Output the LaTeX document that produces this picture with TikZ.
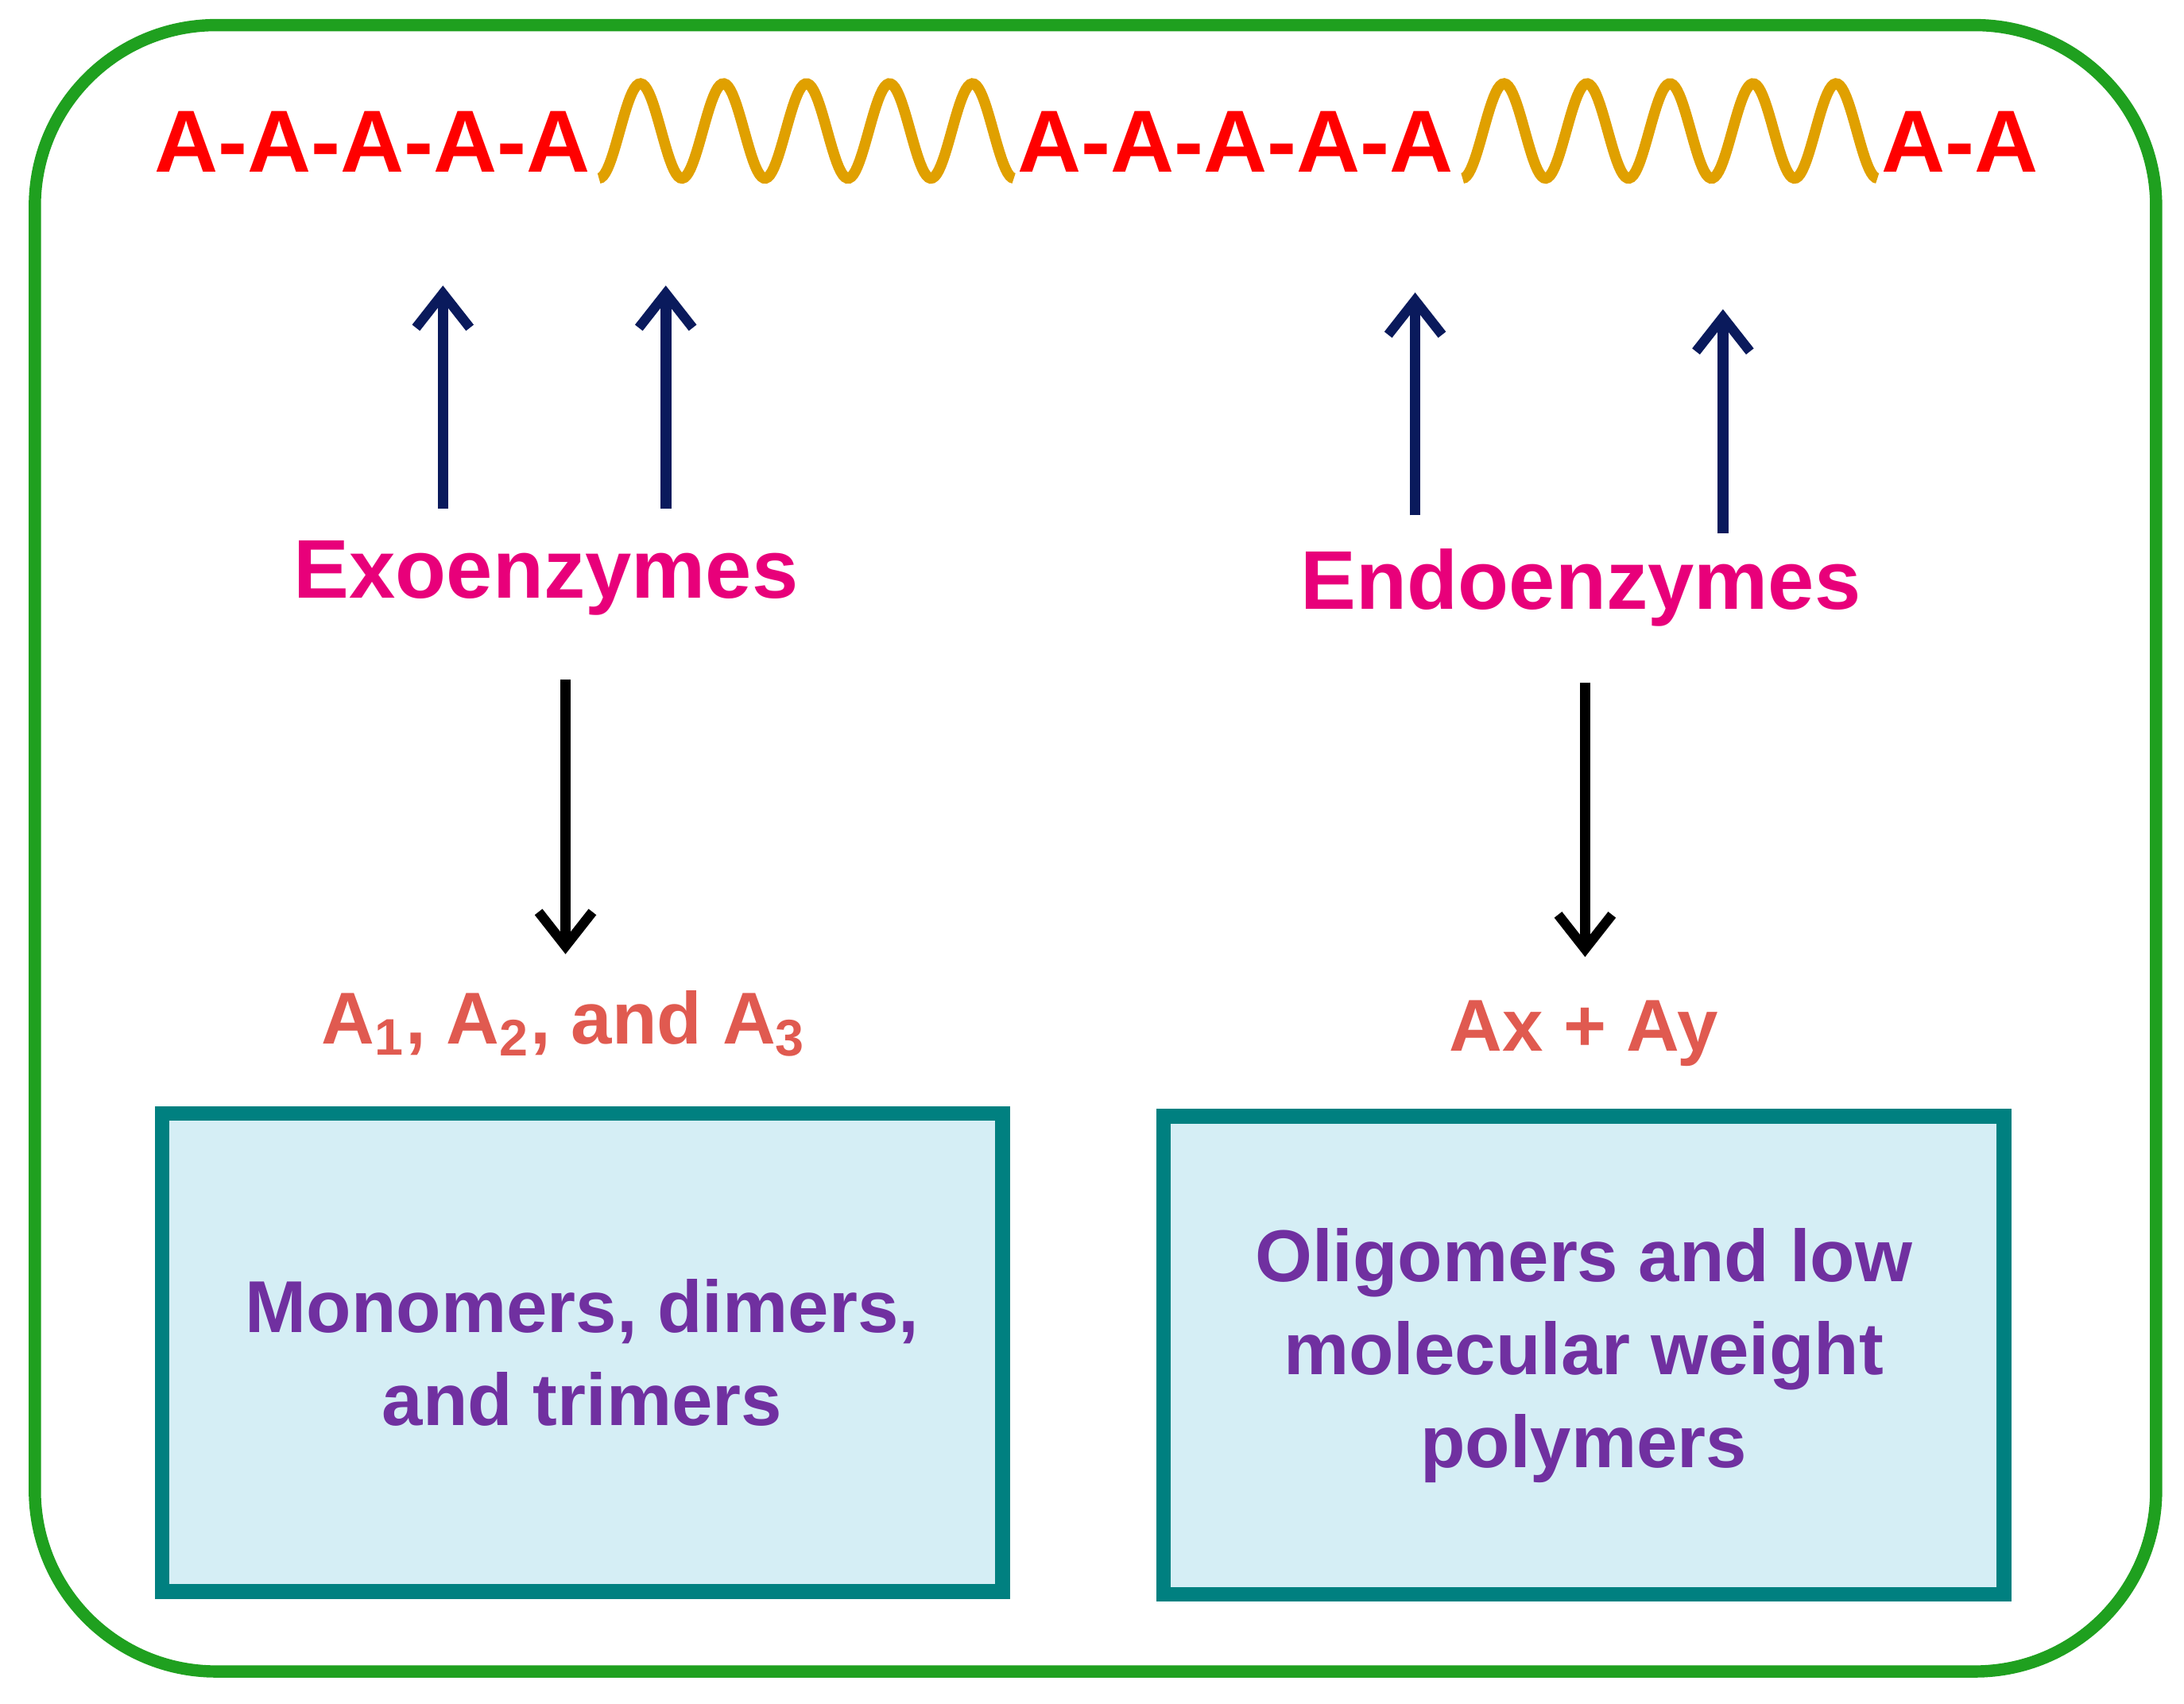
\documentclass[tikz,border=0pt]{standalone}
\usepackage{fontspec}
\setmainfont{Liberation Sans}
\usetikzlibrary{positioning}
\definecolor{frame}{HTML}{1FA01F}
\definecolor{chain}{HTML}{FF0000}
\definecolor{wavy}{HTML}{E0A000}
\definecolor{navy}{HTML}{0A1A5C}
\definecolor{enzyme}{HTML}{E8007A}
\definecolor{product}{HTML}{E05A50}
\definecolor{boxfill}{HTML}{D5EEF5}
\definecolor{boxline}{HTML}{008080}
\definecolor{boxtext}{HTML}{7030A0}
\tikzset{
  chain/.style={text=chain, font=\fontsize{18}{20}\selectfont\bfseries, inner sep=0pt},
  wave/.style={wavy, line width=2.2pt},
  cut/.style={navy, line width=2.2pt, -{Straight Barb[length=7pt,width=11pt,line width=2pt]}},
  yield/.style={black, line width=2.2pt, -{Straight Barb[length=7pt,width=11pt,line width=2pt]}},
  enzyme/.style={text=enzyme, font=\fontsize{17}{20}\selectfont\bfseries},
  product/.style={text=product, font=\fontsize{15}{18}\selectfont\bfseries},
  result/.style={draw=boxline, fill=boxfill, line width=3pt, minimum width=6.03cm, minimum height=3.43cm,
    align=center, text=boxtext, font=\fontsize{15}{19}\selectfont\bfseries}
}
\usetikzlibrary{arrows.meta}
\begin{document}
\begin{tikzpicture}[x=0.01cm, y=-0.01cm]
\useasboundingbox (0,0) rectangle (1568,1223);
% Frame
\draw[frame, line width=2.5pt, rounded corners=1.3cm] (25,18) rectangle (1548,1200);
% Polymer chain
\node[chain, anchor=west] (c1) at (110,102) {A-A-A-A-A};
\node[chain, anchor=west] (c2) at (730,102) {A-A-A-A-A};
\node[chain, anchor=west] (c3) at (1350,102) {A-A};
\draw[wave] plot[domain=0:5, samples=200] ({430+59.6*\x},{94+34*cos(360*\x)});
\draw[wave] plot[domain=0:5, samples=200] ({1050+59.6*\x},{94+34*cos(360*\x)});
% Enzymes
\node[enzyme] (exo) at (392,415) {Exoenzymes};
\node[enzyme] (endo) at (1135,422) {Endoenzymes};
\coordinate (e1) at (318,365); \coordinate (t1) at (318,205);
\coordinate (e2) at (478,365); \coordinate (t2) at (478,205);
\coordinate (e3) at (1016,370); \coordinate (t3) at (1016,210);
\coordinate (e4) at (1237,383); \coordinate (t4) at (1237,222);
\draw[cut] (e1) -- (t1);
\draw[cut] (e2) -- (t2);
\draw[cut] (e3) -- (t3);
\draw[cut] (e4) -- (t4);
% Products
\node[product] (p1) at (405,735) {A\textsubscript{1}, A\textsubscript{2}, and A\textsubscript{3}};
\node[product] (p2) at (1137,742) {Ax + Ay};
\coordinate (d1) at (406,488);
\coordinate (d2) at (1138,490);
\draw[yield] (d1) -- (406,685);
\draw[yield] (d2) -- (1138,687);
% Boxes
\node[result] (b1) at (418,971) {Monomers, dimers,\\and trimers};
\node[result] (b2) at (1137,973) {Oligomers and low\\molecular weight\\polymers};
\end{tikzpicture}
\end{document}
